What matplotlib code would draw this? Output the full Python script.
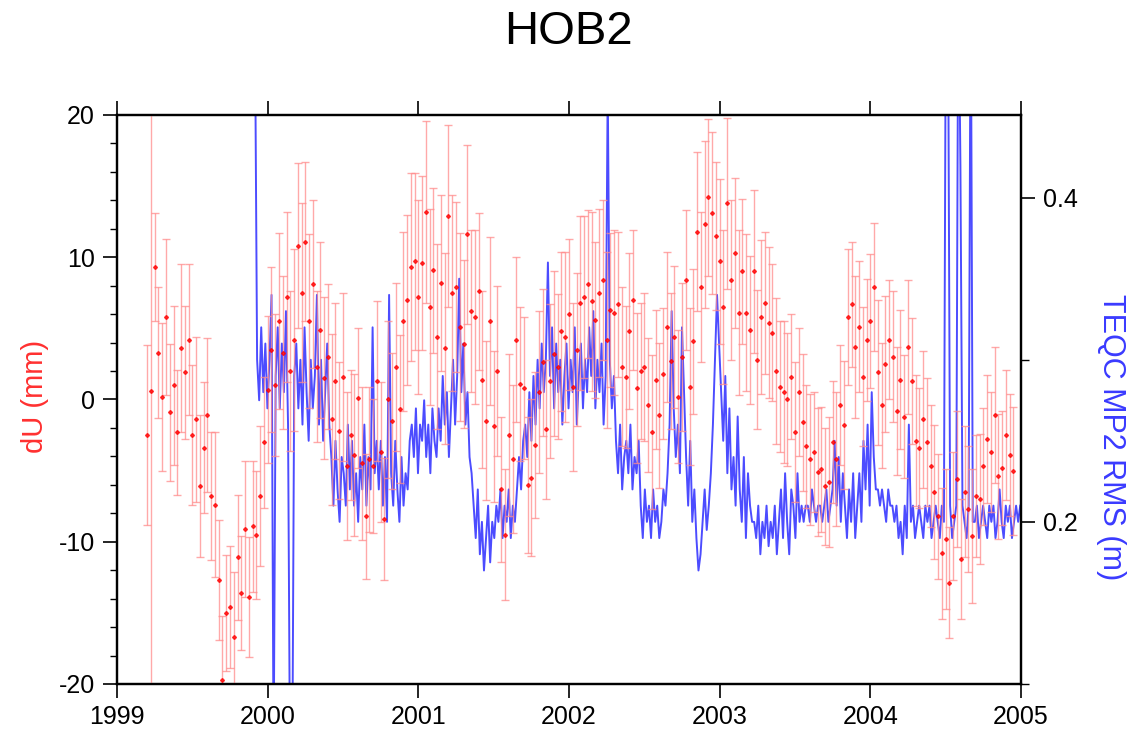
import numpy as np
import matplotlib
matplotlib.use("Agg")
import matplotlib.pyplot as plt
from matplotlib.ticker import MultipleLocator, FixedLocator

plt.rcParams['font.family'] = ['Liberation Sans', 'DejaVu Sans']
plt.rcParams['axes.unicode_minus'] = False

# dU series (mm), one value every 0.025 yr starting 1999.20
du_start = 1999.20
du_step = 0.025
du = [
    -2.5, 0.6, 9.3, 3.3, 0.2, 5.8, -0.9, 1.0, -2.3, 3.6, 1.9, 4.2, -2.5, -1.4, -6.1, -3.4, -1.1, -6.8, -7.4, -12.7,
    -19.7, -15.0, -14.6, -16.7, -11.1, -13.6, -9.1, -13.9, -8.9, -9.5, -6.8, -3.0, 0.7, 3.5, 1.0, 5.5, 3.3, 7.2, 2.0, 4.2,
    10.8, 7.5, 11.1, 5.5, 8.1, 2.3, 4.9, 1.5, 3.0, -1.4, 1.3, -2.2, 1.6, -4.7, -2.5, -3.9, 0.1, -4.5, -8.2, -4.2,
    -4.7, 1.3, -3.7, -8.4, 0.0, -1.5, 2.3, -0.7, 5.5, 7.0, 9.3, 9.7, 7.2, 9.6, 13.2, 6.5, 9.1, 4.4, 8.2, 3.6,
    12.9, 7.5, 7.9, 5.1, 3.9, 11.6, 6.2, 5.8, 7.6, 1.4, -1.5, 5.5, -1.9, 2.0, -6.3, -9.5, -2.5, -4.2, 4.2, 1.1,
    0.8, -6.0, -5.5, -3.2, 0.5, 2.6, -2.1, 1.3, 3.2, 2.3, 4.8, 4.4, 6.0, 0.9, 3.5, 6.8, 7.2, 8.1, 6.9, 5.6,
    7.5, 8.4, 4.2, 6.3, 6.1, 6.7, 2.3, 1.6, 4.8, 7.0, 0.8, 2.0, 2.3, -0.4, -2.3, 1.4, -1.1, 1.8, 5.1, 2.7,
    4.4, 0.2, 3.0, 8.4, 0.9, 4.1, 11.8, 7.9, 12.3, 14.2, 13.1, 11.5, 9.7, 6.5, 13.8, 8.4, 10.3, 6.1, 9.0, 6.1,
    4.9, 9.0, 2.8, 5.8, 6.8, 5.4, 4.7, 2.0, 0.9, 0.5, 0.0, 1.6, -2.3, 0.5, -1.6, -3.3, -4.2, -3.7, -5.1, -4.9,
    -6.1, -5.8, -3.0, -4.2, -0.4, -1.8, 5.8, 6.7, 3.7, 5.1, 1.6, 4.2, 5.5, 7.9, 1.9, -0.4, 2.5, 4.2, 3.0, -0.8,
    1.4, -1.2, 3.7, 1.3, -2.9, -3.4, -1.4, -3.0, -4.7, -6.5, -8.2, -10.8, -9.8, -12.9, -8.2, -5.6, -11.2, -6.5, -7.7, -9.6,
    -6.8, -7.0, -4.7, -2.8, -3.7, -1.1, -5.4, -4.8, -2.5, -3.9, -5.0,
]
du_err = [
    6.3, 30.0, 3.8, 4.6, 5.2, 5.5, 4.8, 5.6, 4.4, 5.9, 4.7, 5.3, 4.9, 5.8, 5.0, 4.6, 5.4, 4.5, 5.1, 4.2,
    4.5, 4.1, 4.3, 4.6, 4.4, 4.0, 4.8, 4.2, 4.6, 4.5, 4.9, 4.6, 5.2, 5.8, 5.0, 6.2, 5.4, 6.0, 5.6, 6.4,
    5.8, 6.3, 5.6, 6.1, 5.9, 5.3, 6.2, 5.7, 5.1, 6.0, 5.5, 4.8, 5.9, 5.2, 4.6, 5.7, 4.9, 5.4, 4.4, 5.1,
    4.7, 5.6, 4.9, 4.3, 5.5, 4.8, 5.9, 5.2, 6.3, 6.0, 6.6, 6.2, 6.8, 6.1, 6.4, 6.9, 5.8, 6.5, 6.2, 6.7,
    6.4, 6.9, 6.0, 6.6, 5.9, 6.3, 5.7, 6.1, 5.5, 6.2, 5.6, 5.9, 5.3, 6.0, 5.1, 4.6, 5.7, 5.2, 5.8, 5.4,
    5.0, 4.8, 5.5, 5.1, 5.7, 5.2, 4.9, 5.4, 5.8, 5.1, 5.6, 6.0, 5.3, 5.9, 5.4, 6.1, 5.7, 5.2, 6.3, 5.5,
    5.9, 5.6, 6.2, 5.4, 5.8, 5.1, 5.6, 5.0, 5.5, 4.9, 5.3, 4.8, 5.2, 4.7, 5.4, 4.9, 5.1, 4.6, 5.3, 4.8,
    5.0, 4.7, 5.2, 4.9, 5.5, 5.1, 5.6, 5.3, 5.9, 5.5, 5.7, 5.2, 5.8, 5.4, 6.0, 5.6, 5.3, 5.8, 5.1, 5.5,
    5.2, 5.7, 4.9, 5.4, 5.0, 5.3, 4.8, 5.1, 4.6, 5.0, 4.7, 4.4, 4.9, 4.5, 4.8, 4.3, 4.6, 4.2, 4.5, 4.4,
    4.1, 4.6, 4.3, 4.7, 4.2, 4.5, 4.8, 4.4, 5.0, 4.6, 4.9, 4.3, 4.7, 4.5, 5.1, 4.4, 4.8, 4.2, 4.6, 4.5,
    4.9, 4.3, 4.7, 4.4, 4.6, 4.2, 4.8, 4.5, 4.3, 4.7, 4.4, 4.6, 4.9, 3.9, 4.5, 4.8, 4.2, 4.6, 4.4, 4.7,
    4.3, 4.6, 4.1, 4.5, 4.2, 4.8, 4.4, 4.0, 4.6, 4.3, 4.5,
]

# TEQC MP2 RMS (m), one value every 5 days starting 1999.916
mp2_start = 1999.916
mp2_step = 5 / 365.25
mp2 = [
    0.50, 0.30, 0.275, 0.32, 0.28, 0.31, 0.27,
    0.30, 0.34, 0.05, 0.29, 0.32, 0.27, 0.31, 0.28, 0.33, 0.26, 0.04, 0.03, 0.29, 0.31, 0.27,
    0.30, 0.26, 0.32, 0.28, 0.25, 0.30, 0.27, 0.29, 0.34, 0.26, 0.30, 0.25, 0.28, 0.31, 0.26,
    0.24, 0.21, 0.25, 0.22, 0.20, 0.24, 0.23, 0.21, 0.26, 0.22, 0.25, 0.21, 0.23, 0.20, 0.24,
    0.22, 0.26, 0.21, 0.24, 0.22, 0.32, 0.23, 0.25,
    0.22, 0.25, 0.21, 0.24, 0.20, 0.34, 0.23, 0.21, 0.25, 0.22, 0.20, 0.24, 0.21, 0.23, 0.22, 0.25,
    0.26, 0.24, 0.27, 0.23, 0.26, 0.25, 0.275, 0.24, 0.26, 0.23, 0.27, 0.25, 0.24,
    0.27, 0.25, 0.29, 0.26, 0.28, 0.24, 0.27, 0.30, 0.26, 0.29, 0.35, 0.28, 0.31, 0.26, 0.28, 0.24, 0.23,
    0.21, 0.19, 0.22, 0.18, 0.20, 0.17, 0.19, 0.21, 0.175, 0.20, 0.19, 0.21,
    0.20, 0.22, 0.19, 0.21, 0.20, 0.22, 0.19, 0.21, 0.20, 0.22,
    0.24, 0.22, 0.25,
    0.26, 0.24, 0.28, 0.25, 0.29, 0.26, 0.30, 0.27, 0.31, 0.28, 0.30, 0.36, 0.29, 0.32, 0.27,
    0.31, 0.28, 0.30, 0.26, 0.29, 0.31, 0.27, 0.30, 0.28, 0.32, 0.26, 0.29, 0.31, 0.27, 0.30,
    0.28, 0.32, 0.29, 0.33, 0.27, 0.30, 0.28, 0.31, 0.26, 0.29, 0.47, 0.30, 0.27, 0.29,
    0.25, 0.23, 0.26, 0.22, 0.24, 0.25, 0.23, 0.26, 0.22, 0.24, 0.23, 0.25,
    0.21, 0.19, 0.22, 0.20, 0.21, 0.19, 0.22, 0.20, 0.21, 0.19, 0.20, 0.22, 0.21, 0.23, 0.26,
    0.33, 0.27, 0.24, 0.26, 0.23, 0.32, 0.28,
    0.24, 0.21, 0.25, 0.20, 0.22,
    0.19, 0.17, 0.18,
    0.20, 0.22, 0.195, 0.21, 0.23,
    0.26, 0.30, 0.34, 0.31, 0.28,
    0.25, 0.29, 0.23, 0.27, 0.22,
    0.24, 0.21, 0.265, 0.22, 0.20, 0.24, 0.19, 0.23, 0.21, 0.20,
    0.20, 0.19, 0.21, 0.18, 0.20, 0.19, 0.21, 0.185, 0.20, 0.19, 0.21, 0.18, 0.20,
    0.22, 0.19, 0.23, 0.20, 0.18, 0.22, 0.21, 0.19, 0.23, 0.20,
    0.21, 0.20, 0.21, 0.21, 0.20, 0.22, 0.21, 0.20, 0.21, 0.21, 0.20, 0.21, 0.22, 0.20, 0.21,
    0.22, 0.25, 0.21, 0.24, 0.20, 0.23,
    0.21, 0.19, 0.22, 0.20, 0.23, 0.19,
    0.21, 0.23, 0.20, 0.25, 0.22, 0.26, 0.21, 0.28, 0.24, 0.22,
    0.22, 0.21, 0.22, 0.21, 0.20, 0.22, 0.21, 0.21,
    0.20, 0.21, 0.19, 0.20, 0.18, 0.21, 0.19, 0.26,
    0.20, 0.21, 0.19, 0.20, 0.21, 0.20, 0.19, 0.21, 0.20, 0.21, 0.19, 0.20, 0.21, 0.20, 0.19, 0.21, 0.20,
    0.55, 0.52,
    0.21, 0.19, 0.20, 0.21,
    0.55, 0.42, 0.21,
    0.20, 0.19, 0.21,
    0.55, 0.20,
    0.20, 0.21, 0.19, 0.20, 0.21, 0.20, 0.19, 0.21, 0.20, 0.21, 0.19, 0.20, 0.22, 0.20, 0.19,
    0.21, 0.20, 0.21, 0.19, 0.20, 0.21, 0.20, 0.21,
]

years = [1999, 2000, 2001, 2002, 2003, 2004, 2005]

du_t = du_start + du_step * np.arange(len(du))
mp2_t = mp2_start + mp2_step * np.arange(len(mp2))

fig = plt.figure(figsize=(11.44, 7.36), dpi=100)
ax = fig.add_axes([0.1023, 0.0707, 0.7902, 0.7731])
ax2 = ax.twinx()

ax2.plot(mp2_t, mp2, color='#0000ff', lw=1.4, alpha=0.7)
ax2.set_ylim(0.1, 0.451)
ax2.yaxis.set_major_locator(FixedLocator([0.2, 0.4]))
ax2.yaxis.set_minor_locator(FixedLocator([0.1, 0.3]))
ax2.set_yticklabels(['0.2', '0.4'])
ax2.tick_params(axis='y', which='major', direction='out', length=10, width=1.2, labelsize=18, pad=6)
ax2.tick_params(axis='y', which='minor', direction='out', length=6, width=1.0)

ax.set_zorder(ax2.get_zorder() + 1)
ax.patch.set_visible(False)
ax.errorbar(du_t, du, yerr=du_err, fmt='D', color='red', markersize=2.0,
            ecolor='#ff8c8c', elinewidth=1.0, capsize=3, capthick=1.0, alpha=0.75)

ax.set_xlim(1999, 2005)
ax.set_ylim(-20, 20)
ax.set_xticks(years)
ax.set_xticklabels([str(y) for y in years])
ax.set_yticks([-20, -10, 0, 10, 20])
ax.yaxis.set_minor_locator(MultipleLocator(2))
ax.tick_params(axis='x', direction='out', length=10, width=1.2, top=True, labelsize=18, pad=5)
ax.tick_params(axis='y', which='major', direction='out', length=10, width=1.2, labelsize=18, pad=6)
ax.tick_params(axis='y', which='minor', direction='out', length=5, width=1.0)

for a in (ax, ax2):
    for s in a.spines.values():
        s.set_linewidth(1.6)

fig.text(0.0306, 0.462, 'dU (mm)', color='#ff3030', fontsize=21,
         rotation=90, ha='center', va='center')
fig.text(0.9712, 0.406, 'TEQC MP2 RMS (m)', color='#3a3aff', fontsize=22,
         rotation=270, ha='center', va='center')
fig.text(0.4965, 0.957, 'HOB2', fontsize=34, ha='center', va='center')

fig.savefig('out.png', dpi=100)
